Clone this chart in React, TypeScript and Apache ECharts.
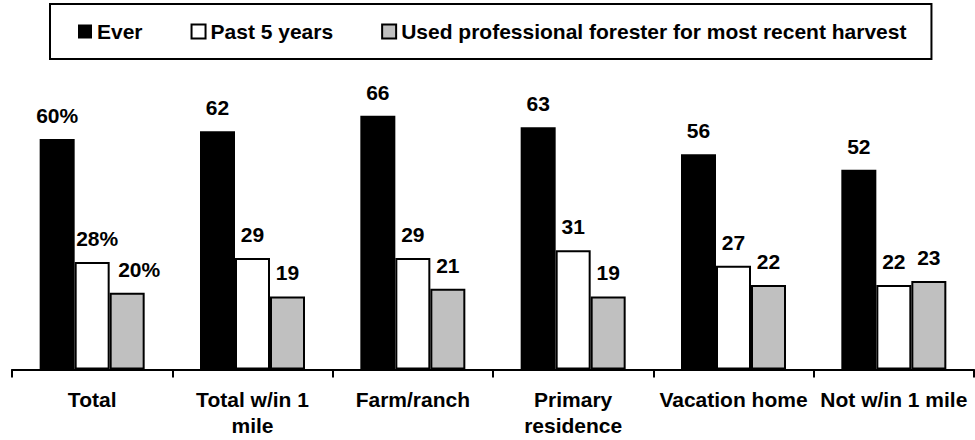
import React, { useEffect, useRef } from "react";
import * as echarts from "echarts";

const categories = [
  "Total",
  "Total w/in 1\nmile",
  "Farm/ranch",
  "Primary\nresidence",
  "Vacation home",
  "Not w/in 1 mile",
];
const seriesNames = [
  "Ever",
  "Past 5 years",
  "Used professional forester for most recent harvest",
];
const everValues = [60, 62, 66, 63, 56, 52];
const past5Values = [28, 29, 29, 31, 27, 22];
const foresterValues = [20, 19, 21, 19, 22, 23];

const FONT = "'Liberation Sans', Arial, Helvetica, sans-serif";

export default function App() {
  const ref = useRef<HTMLDivElement>(null);
  useEffect(() => {
    if (!ref.current) return;
    const chart = echarts.init(ref.current, null, { renderer: "svg" });
    const baseLabel = {
      show: true,
      position: "top",
      distance: 13,
      fontSize: 21,
      fontWeight: "bold",
      fontFamily: FONT,
      color: "#000",
      formatter: (p: any) => (p.dataIndex === 0 ? p.value + "%" : String(p.value)),
    };
    // the first category's labels of series 2 and 3 sit a little to the right in the original
    const firstLabelShift = [0, 5, 12];
    const styles = [
      { color: "#000000", borderColor: "#000000", borderWidth: 0 },
      { color: "#ffffff", borderColor: "#000000", borderWidth: 2 },
      { color: "#c0c0c0", borderColor: "#000000", borderWidth: 2 },
    ];
    const data = [everValues, past5Values, foresterValues];
    chart.setOption({
      animation: false,
      backgroundColor: "#ffffff",
      textStyle: { fontFamily: FONT },
      legend: {
        left: 50,
        top: 4,
        padding: [17, 25, 17, 28],
        borderColor: "#000",
        borderWidth: 2,
        itemWidth: 14,
        itemHeight: 14,
        itemGap: 48,
        icon: "rect",
        textStyle: { fontSize: 21, fontWeight: "bold", color: "#000", fontFamily: FONT },
        data: seriesNames,
      },
      grid: { left: 12, right: 1, top: 62, bottom: 70.5 },
      xAxis: {
        type: "category",
        data: categories,
        axisLine: { lineStyle: { color: "#000", width: 2 } },
        axisTick: { show: true, length: 8, lineStyle: { color: "#000", width: 2 } },
        axisLabel: {
          interval: 0,
          margin: 17,
          fontSize: 21,
          fontWeight: "bold",
          lineHeight: 26,
          color: "#000",
          fontFamily: FONT,
        },
      },
      yAxis: { type: "value", min: 0, max: 80, show: false, splitLine: { show: false } },
      series: seriesNames.map((name, i) => ({
        name,
        type: "bar",
        data: data[i].map((v, j) =>
          j === 0 && firstLabelShift[i]
            ? { value: v, label: { offset: [firstLabelShift[i], 0] } }
            : v
        ),
        barWidth: 35,
        barGap: "0%",
        itemStyle: styles[i],
        label: baseLabel,
      })),
    });
    return () => chart.dispose();
  }, []);
  return (
    <div
      ref={ref}
      style={{ position: "fixed", left: 0, top: 0, width: 975, height: 440 }}
    />
  );
}
